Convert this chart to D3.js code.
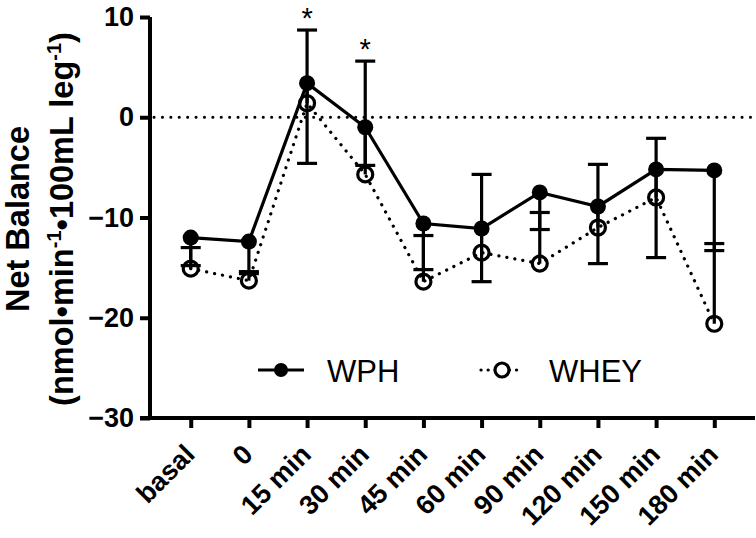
<!DOCTYPE html>
<html>
<head>
<meta charset="utf-8">
<script src="https://cdn.jsdelivr.net/npm/d3@7"></script>
<style>
  html, body { margin: 0; padding: 0; background: #fff; }
  svg { display: block; }
  text { font-family: "Liberation Sans", Arial, Helvetica, sans-serif; fill: #000; }
</style>
</head>
<body>
<svg id="chart" width="756" height="538"></svg>
<script>
// ---- data ----
const categories = ["basal", "0", "15 min", "30 min", "45 min", "60 min", "90 min", "120 min", "150 min", "180 min"];
const wphMean  = [-12.0, -12.4, 3.4, -1.0, -10.6, -11.1, -7.5, -8.9, -5.2, -5.3];
const wphSem   = [2.8, 3.2, 8.0, 3.8, 4.6, 5.3, 3.7, 5.7, 8.8, 8.0];     // drawn downward
const wheyMean = [-15.1, -16.3, 1.4, -5.7, -16.4, -13.5, -14.6, -11.0, -8.0, -20.6];
const wheySem  = [2.1, 0.9, 7.3, 11.3, 4.6, 7.8, 5.1, 6.3, 5.9, 8.0];     // drawn upward
const yTicks = [-30, -20, -10, 0, 10];
const sigCategories = ["15 min", "30 min"];
const seriesNames = ["WPH", "WHEY"];

// ---- layout ----
const svg = d3.select("#chart");
const axisX = 150, axisBottom = 418, axisTop = 17, plotRight = 755;

const x = d3.scalePoint().domain(categories).range([axisX, plotRight]).padding(0.7);
const y = d3.scaleLinear().domain([-30, 10]).range([axisBottom, axisTop]);

const wph  = categories.map((c, i) => ({c, m: wphMean[i],  e: wphSem[i],  dir: -1}));
const whey = categories.map((c, i) => ({c, m: wheyMean[i], e: wheySem[i], dir: 1}));

// zero reference line
svg.append("line")
  .attr("x1", axisX + 4).attr("x2", plotRight)
  .attr("y1", y(0)).attr("y2", y(0))
  .attr("stroke", "#000").attr("stroke-width", 3)
  .attr("stroke-linecap", "round").attr("stroke-dasharray", "0.1 8.3");

// y axis
const yAxis = svg.append("g").attr("transform", `translate(${axisX},0)`)
  .call(d3.axisLeft(y).tickValues(yTicks).tickSize(10).tickSizeOuter(0).tickPadding(6));
yAxis.select(".domain").attr("stroke", "#000").attr("stroke-width", 4)
  .attr("d", `M0,${axisTop}V${axisBottom + 2}`);
yAxis.selectAll(".tick line").attr("stroke", "#000").attr("stroke-width", 4);
yAxis.selectAll(".tick text").attr("font-size", 27).attr("font-weight", "bold")
  .attr("font-family", "Liberation Sans, Arial, sans-serif");

// x axis
const xAxis = svg.append("g").attr("transform", `translate(0,${axisBottom})`)
  .call(d3.axisBottom(x).tickSize(10).tickSizeOuter(0));
xAxis.select(".domain").attr("stroke", "#000").attr("stroke-width", 4)
  .attr("d", `M${axisX - 10},0H${plotRight}`);
xAxis.selectAll(".tick line").attr("stroke", "#000").attr("stroke-width", 4);
xAxis.selectAll(".tick text")
  .attr("font-size", 27).attr("font-weight", "bold")
  .attr("font-family", "Liberation Sans, Arial, sans-serif")
  .attr("text-anchor", "end")
  .attr("y", 0).attr("dy", 0)
  .attr("transform", "translate(5,38) rotate(-45)");

// y axis title
const yTitle = svg.append("text")
  .attr("transform", `translate(0,219) rotate(-90)`)
  .attr("text-anchor", "middle").attr("font-weight", "bold").attr("font-size", 32.5);
yTitle.append("tspan").attr("x", 0).attr("y", 29).text("Net Balance");
const l2 = yTitle.append("tspan").attr("x", 0).attr("y", 73);
l2.append("tspan").text("(nmol\u2022min");
l2.append("tspan").attr("dy", -12).attr("font-size", 20).text("-1");
l2.append("tspan").attr("dy", 12).text("\u2022100mL leg");
l2.append("tspan").attr("dy", -12).attr("font-size", 20).text("-1");
l2.append("tspan").attr("dy", 12).text(")");

// error bars
const capHalf = 10;
function drawErr(data, cls) {
  const g = svg.append("g").attr("class", cls)
    .attr("stroke", "#000").attr("stroke-width", 3.2);
  g.selectAll("line.v").data(data).join("line").attr("class", "v")
    .attr("x1", d => x(d.c)).attr("x2", d => x(d.c))
    .attr("y1", d => y(d.m)).attr("y2", d => y(d.m + d.dir * d.e));
  g.selectAll("line.cap").data(data).join("line").attr("class", "cap")
    .attr("x1", d => x(d.c) - capHalf).attr("x2", d => x(d.c) + capHalf)
    .attr("y1", d => y(d.m + d.dir * d.e)).attr("y2", d => y(d.m + d.dir * d.e));
}
drawErr(whey, "err-whey");
drawErr(wph, "err-wph");

// lines
const lineGen = d3.line().x(d => x(d.c)).y(d => y(d.m));
svg.append("path").datum(whey).attr("d", lineGen)
  .attr("fill", "none").attr("stroke", "#000").attr("stroke-width", 3.2)
  .attr("stroke-linecap", "round").attr("stroke-dasharray", "0.1 8");
svg.append("path").datum(wph).attr("d", lineGen)
  .attr("fill", "none").attr("stroke", "#000").attr("stroke-width", 3.2);

// markers
svg.append("g").selectAll("circle").data(whey).join("circle")
  .attr("cx", d => x(d.c)).attr("cy", d => y(d.m)).attr("r", 7.5)
  .attr("fill", "none").attr("stroke", "#000").attr("stroke-width", 3.2);
svg.append("g").selectAll("circle").data(wph).join("circle")
  .attr("cx", d => x(d.c)).attr("cy", d => y(d.m)).attr("r", 8)
  .attr("fill", "#000");

// significance asterisks
svg.append("g").selectAll("text").data(wheyMean.map((m, i) => ({c: categories[i], top: m + wheySem[i]}))
    .filter(d => sigCategories.includes(d.c)))
  .join("text")
  .attr("x", d => x(d.c)).attr("y", d => y(d.top) - 2)
  .attr("text-anchor", "middle").attr("font-size", 29).text("*");

// legend
const legendY = 370;
const lg = svg.append("g");
// WPH
lg.append("line").attr("x1", 258).attr("x2", 304).attr("y1", legendY).attr("y2", legendY)
  .attr("stroke", "#000").attr("stroke-width", 3.2);
lg.append("circle").attr("cx", 281).attr("cy", legendY).attr("r", 7).attr("fill", "#000");
lg.append("text").attr("x", 327).attr("y", legendY + 12).attr("font-size", 31).text(seriesNames[0]);
// WHEY
lg.append("line").attr("x1", 481).attr("x2", 523).attr("y1", legendY).attr("y2", legendY)
  .attr("stroke", "#000").attr("stroke-width", 3.2)
  .attr("stroke-linecap", "round").attr("stroke-dasharray", "0.1 7");
lg.append("circle").attr("cx", 502).attr("cy", legendY).attr("r", 7)
  .attr("fill", "#fff").attr("stroke", "#000").attr("stroke-width", 3.2);
lg.append("text").attr("x", 549).attr("y", legendY + 12).attr("font-size", 31).text(seriesNames[1]);
</script>
</body>
</html>
